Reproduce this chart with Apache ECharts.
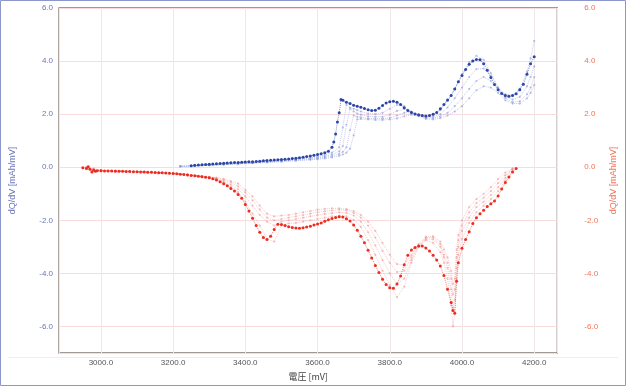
<!DOCTYPE html>
<html><head><meta charset="utf-8">
<script src="https://cdn.jsdelivr.net/npm/echarts@6/dist/echarts.min.js"></script>
<style>html,body{margin:0;padding:0;background:#fff}#c{width:626px;height:386px}</style>
</head><body><div id="c"></div>
<script>
// ---- data ----
const xTicks = [3000, 3200, 3400, 3600, 3800, 4000, 4200];
const yTicks = [-6, -4, -2, 0, 2, 4, 6];

// highlighted charge cycle (blue)
const blueMainV = [3250,3260,3270,3280,3290,3300,3310,3320,3330,3340,3350,3360,3370,3380,3390,3400,3410,3420,3430,3440,3450,3460,3470,3480,3490,3500,3510,3520,3530,3540,3550,3560,3570,3580,3590,3600,3610,3620,3630,3640,3645,3650,3655,3660,3665,3670,3680,3690,3700,3710,3720,3730,3740,3750,3760,3770,3780,3790,3800,3810,3820,3830,3840,3850,3860,3870,3880,3890,3900,3910,3920,3930,3940,3950,3960,3970,3980,3990,4000,4010,4020,4030,4040,4050,4060,4070,4080,4090,4100,4110,4120,4130,4140,4150,4160,4170,4180,4190,4200];
const blueMain = [0.06,0.07,0.08,0.09,0.10,0.11,0.12,0.13,0.14,0.15,0.16,0.17,0.18,0.18,0.19,0.20,0.21,0.21,0.22,0.23,0.24,0.25,0.26,0.27,0.28,0.29,0.30,0.31,0.33,0.34,0.36,0.38,0.40,0.42,0.45,0.48,0.51,0.55,0.60,0.75,0.95,1.25,1.70,2.05,2.55,2.52,2.45,2.40,2.34,2.30,2.26,2.21,2.17,2.14,2.15,2.22,2.33,2.42,2.47,2.49,2.45,2.36,2.24,2.14,2.06,2.01,1.98,1.95,1.93,1.95,2.00,2.06,2.20,2.36,2.53,2.70,2.95,3.22,3.46,3.68,3.88,4.00,4.06,4.05,3.90,3.65,3.38,3.12,2.92,2.78,2.70,2.67,2.70,2.77,2.92,3.13,3.50,3.90,4.16];

// other charge cycles (faint blue)
const blueFaintV = [3220,3260,3300,3340,3380,3420,3460,3500,3540,3580,3600,3620,3640,3660,3670,3680,3690,3700,3710,3720,3740,3760,3780,3800,3820,3840,3860,3880,3900,3920,3940,3960,3980,4000,4020,4040,4060,4080,4100,4120,4140,4160,4180,4190,4200];
const blueF1 = [0.04,0.06,0.09,0.12,0.15,0.18,0.22,0.26,0.30,0.36,0.40,0.46,0.55,0.75,1.50,2.35,2.25,2.20,2.15,2.10,2.02,2.00,2.05,2.20,2.35,2.30,2.08,1.95,1.90,1.95,2.15,2.50,2.95,3.50,3.95,4.20,4.05,3.55,3.00,2.75,2.72,2.95,3.60,4.10,4.76];
const blueF2 = [0.04,0.06,0.08,0.11,0.14,0.17,0.20,0.24,0.28,0.33,0.36,0.41,0.48,0.60,0.80,1.60,2.20,2.10,2.02,1.98,1.92,1.90,1.90,1.98,2.12,2.20,2.10,1.95,1.88,1.90,2.00,2.25,2.60,3.00,3.40,3.70,3.72,3.45,3.00,2.65,2.55,2.65,3.05,3.40,3.80];
const blueF3 = [0.03,0.05,0.08,0.10,0.13,0.16,0.19,0.22,0.26,0.30,0.33,0.37,0.42,0.50,0.58,0.75,1.40,1.95,1.90,1.88,1.84,1.83,1.83,1.86,1.95,2.05,2.05,1.95,1.85,1.85,1.92,2.05,2.30,2.60,2.95,3.25,3.40,3.25,2.90,2.60,2.45,2.48,2.75,3.00,3.40];
const blueF4 = [0.03,0.05,0.07,0.10,0.12,0.15,0.18,0.21,0.24,0.28,0.30,0.33,0.37,0.43,0.48,0.55,0.70,1.20,1.80,1.82,1.80,1.78,1.78,1.80,1.84,1.92,1.98,1.92,1.82,1.80,1.85,1.95,2.10,2.30,2.60,2.90,3.05,3.00,2.80,2.52,2.40,2.40,2.60,2.80,3.10];

// highlighted discharge cycle (red)
const redMainV = [2950,2960,2965,2970,2975,2980,2985,2990,3000,3010,3020,3030,3040,3050,3060,3070,3080,3090,3100,3110,3120,3130,3140,3150,3160,3170,3180,3190,3200,3210,3220,3230,3240,3250,3260,3270,3280,3290,3300,3310,3320,3330,3340,3350,3360,3370,3380,3390,3400,3410,3420,3430,3440,3450,3460,3470,3480,3490,3500,3510,3520,3530,3540,3550,3560,3570,3580,3590,3600,3610,3620,3630,3640,3650,3660,3670,3680,3690,3700,3710,3720,3730,3740,3750,3760,3770,3780,3790,3800,3810,3820,3830,3840,3850,3860,3870,3880,3890,3900,3910,3920,3930,3940,3950,3960,3970,3975,3980,3985,3990,4000,4010,4020,4030,4040,4050,4060,4070,4080,4090,4100,4110,4120,4130,4140,4150];
const redMain = [-0.02,-0.05,0.02,-0.08,-0.18,-0.10,-0.15,-0.13,-0.13,-0.14,-0.14,-0.14,-0.15,-0.15,-0.15,-0.16,-0.16,-0.17,-0.17,-0.18,-0.18,-0.19,-0.19,-0.20,-0.21,-0.21,-0.22,-0.23,-0.24,-0.25,-0.26,-0.27,-0.29,-0.31,-0.32,-0.34,-0.36,-0.38,-0.40,-0.43,-0.48,-0.55,-0.62,-0.70,-0.80,-0.90,-1.03,-1.17,-1.40,-1.65,-1.92,-2.20,-2.45,-2.65,-2.72,-2.60,-2.35,-2.15,-2.16,-2.20,-2.24,-2.27,-2.29,-2.30,-2.28,-2.25,-2.22,-2.18,-2.14,-2.10,-2.04,-1.98,-1.93,-1.89,-1.87,-1.88,-1.94,-2.03,-2.18,-2.37,-2.60,-2.85,-3.13,-3.42,-3.70,-3.97,-4.22,-4.42,-4.54,-4.56,-4.40,-4.10,-3.67,-3.32,-3.12,-3.02,-2.97,-2.97,-3.04,-3.16,-3.32,-3.50,-3.72,-4.08,-4.60,-5.10,-5.40,-5.50,-4.30,-3.60,-3.05,-2.72,-2.43,-2.12,-1.90,-1.75,-1.62,-1.48,-1.38,-1.27,-1.08,-0.82,-0.58,-0.37,-0.18,-0.05];

// other discharge cycles (faint red)
const redFaintV = [2960,2980,3000,3040,3080,3120,3160,3200,3240,3280,3300,3320,3340,3360,3380,3400,3420,3440,3460,3480,3500,3520,3540,3560,3580,3600,3620,3640,3660,3680,3700,3720,3740,3760,3780,3800,3820,3840,3860,3880,3900,3920,3940,3950,3960,3970,3975,3980,3985,3990,4000,4020,4040,4060,4080,4100,4120,4140];
const redF1 = [-0.02,-0.12,-0.12,-0.14,-0.16,-0.18,-0.21,-0.24,-0.29,-0.36,-0.40,-0.46,-0.58,-0.74,-0.94,-1.30,-1.75,-2.20,-2.70,-2.80,-2.20,-2.12,-2.10,-2.05,-2.00,-1.95,-1.90,-1.85,-1.82,-1.85,-1.98,-2.25,-2.75,-3.30,-3.90,-4.45,-4.90,-4.50,-3.60,-3.00,-2.75,-2.85,-3.20,-3.60,-4.20,-5.20,-6.00,-5.50,-4.20,-3.30,-2.70,-2.10,-1.70,-1.45,-1.20,-0.90,-0.50,-0.10];
const redF2 = [0.00,-0.08,-0.12,-0.14,-0.16,-0.18,-0.20,-0.23,-0.28,-0.35,-0.38,-0.43,-0.53,-0.66,-0.83,-1.10,-1.45,-1.80,-2.05,-2.20,-2.05,-2.00,-1.95,-1.90,-1.85,-1.80,-1.76,-1.73,-1.70,-1.72,-1.82,-2.05,-2.45,-2.95,-3.50,-4.00,-4.40,-4.20,-3.50,-3.00,-2.70,-2.72,-3.00,-3.40,-3.80,-4.60,-5.30,-5.00,-3.80,-3.00,-2.40,-1.90,-1.50,-1.30,-1.05,-0.75,-0.40,-0.05];
const redF3 = [-0.05,-0.15,-0.13,-0.15,-0.17,-0.19,-0.21,-0.24,-0.28,-0.34,-0.37,-0.41,-0.48,-0.58,-0.72,-0.95,-1.25,-1.60,-1.90,-2.00,-1.95,-1.90,-1.85,-1.80,-1.75,-1.70,-1.66,-1.63,-1.60,-1.62,-1.72,-1.90,-2.20,-2.65,-3.15,-3.60,-3.95,-3.90,-3.40,-2.95,-2.65,-2.65,-2.90,-3.30,-3.60,-4.20,-4.80,-4.60,-3.40,-2.75,-2.20,-1.70,-1.35,-1.15,-0.90,-0.60,-0.30,-0.08];
const redF4 = [0.01,-0.05,-0.11,-0.13,-0.15,-0.17,-0.20,-0.23,-0.27,-0.33,-0.36,-0.39,-0.44,-0.52,-0.62,-0.85,-1.10,-1.45,-1.75,-1.85,-1.82,-1.80,-1.75,-1.70,-1.65,-1.60,-1.57,-1.55,-1.55,-1.58,-1.65,-1.80,-2.05,-2.40,-2.85,-3.30,-3.65,-3.70,-3.30,-2.90,-2.62,-2.60,-2.80,-3.10,-3.40,-3.90,-4.40,-4.20,-3.10,-2.55,-2.00,-1.50,-1.20,-1.00,-0.75,-0.45,-0.20,-0.05];

// ---- chart ----
const pair = (V, Y) => V.map((v, i) => [v, Y[i]]);
const font = '"Liberation Sans", Arial, sans-serif';

function dotted(name, V, Y, color, lineColor, size, lineW, yIdx, z) {
  return { name, type: 'line', yAxisIndex: yIdx, data: pair(V, Y), z,
    symbol: 'circle', symbolSize: size, showSymbol: true, showAllSymbol: true,
    itemStyle: { color, borderWidth: 0 },
    lineStyle: { color: lineColor, width: lineW, type: 'dotted' },
    silent: true, animation: false };
}

const chart = echarts.init(document.getElementById('c'), null, { renderer: 'canvas' });
chart.setOption({
  animation: false,
  backgroundColor: '#fff',
  grid: { left: 57, right: 57, top: 8, bottom: 30, show: true, borderColor: '#857770', borderWidth: 1.3, backgroundColor: 'transparent' },
  graphic: [
    { type: 'rect', shape: { x: 0.5, y: 0.5, width: 625, height: 385 }, style: { fill: null, stroke: '#8e97cc', lineWidth: 1 }, silent: true },
    { type: 'line', shape: { x1: 8, y1: 357.5, x2: 618, y2: 357.5 }, style: { stroke: '#eceef4', lineWidth: 1 }, silent: true, z: -1 }
  ],
  xAxis: {
    type: 'value', min: 2884, max: 4264, splitNumber: 7,
    name: '電圧 [mV]', nameLocation: 'middle', nameGap: 19,
    nameTextStyle: { color: '#444', fontSize: 9, fontFamily: '"Noto Sans CJK JP", sans-serif' },
    axisLine: { show: false }, axisTick: { show: false },
    axisLabel: { color: '#555', fontSize: 8, fontFamily: font, margin: 6, showMinLabel: false, showMaxLabel: false,
      formatter: v => (xTicks.indexOf(v) >= 0 ? v.toFixed(1) : '') },
    splitLine: { show: true, lineStyle: { color: '#efe6ea', width: 1 } }
  },
  yAxis: [
    {
      type: 'value', min: -7, max: 6, splitNumber: 6, position: 'left',
      name: 'dQ/dV [mAh/mV]', nameLocation: 'middle', nameGap: 42, nameRotate: 90,
      nameTextStyle: { color: '#6a74b8', fontSize: 9, fontFamily: font },
      axisLine: { show: false }, axisTick: { show: false },
      axisLabel: { color: '#6a74b8', fontSize: 8, fontFamily: font, margin: 6, showMinLabel: false,
        formatter: v => (yTicks.indexOf(v) >= 0 ? v.toFixed(1) : '') },
      splitLine: { show: true, lineStyle: { color: '#f8dcdc', width: 1 } }
    },
    {
      type: 'value', min: -7, max: 6, splitNumber: 6, position: 'right',
      name: 'dQ/dV [mAh/mV]', nameLocation: 'middle', nameGap: 44, nameRotate: 90,
      nameTextStyle: { color: '#f07458', fontSize: 9, fontFamily: font },
      axisLine: { show: false }, axisTick: { show: false },
      axisLabel: { color: '#f07458', fontSize: 8, fontFamily: font, margin: 27, showMinLabel: false,
        formatter: v => (yTicks.indexOf(v) >= 0 ? v.toFixed(1) : '') },
      splitLine: { show: false }
    }
  ],
  series: [
    dotted('c1', blueFaintV, blueF1, 'rgba(140,152,218,0.6)', 'rgba(150,160,222,0.55)', 2.2, 1, 0, 2),
    dotted('c2', blueFaintV, blueF2, 'rgba(140,152,218,0.6)', 'rgba(150,160,222,0.55)', 2.2, 1, 0, 2),
    dotted('c3', blueFaintV, blueF3, 'rgba(140,152,218,0.6)', 'rgba(150,160,222,0.55)', 2.2, 1, 0, 2),
    dotted('c4', blueFaintV, blueF4, 'rgba(140,152,218,0.6)', 'rgba(150,160,222,0.55)', 2.2, 1, 0, 2),
    dotted('d1', redFaintV, redF1, 'rgba(240,140,140,0.55)', 'rgba(240,150,150,0.5)', 2.2, 1, 1, 2),
    dotted('d2', redFaintV, redF2, 'rgba(240,140,140,0.55)', 'rgba(240,150,150,0.5)', 2.2, 1, 1, 2),
    dotted('d3', redFaintV, redF3, 'rgba(240,140,140,0.55)', 'rgba(240,150,150,0.5)', 2.2, 1, 1, 2),
    dotted('d4', redFaintV, redF4, 'rgba(240,140,140,0.55)', 'rgba(240,150,150,0.5)', 2.2, 1, 1, 2),
    dotted('charge', blueMainV, blueMain, '#2b45a6', 'rgba(43,69,166,0.6)', 3, 1, 0, 3),
    dotted('discharge', redMainV, redMain, '#ee2b1e', 'rgba(238,43,30,0.6)', 3, 1, 1, 3)
  ]
});
</script></body></html>
